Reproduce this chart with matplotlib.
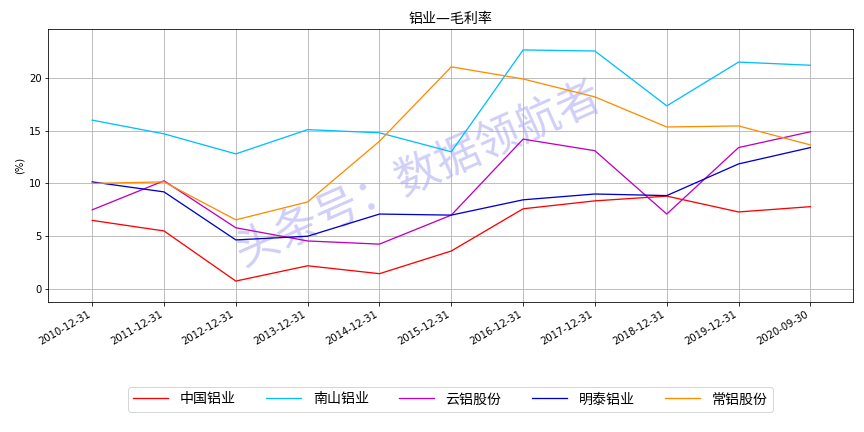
import matplotlib
matplotlib.use("Agg")
import matplotlib.pyplot as plt

plt.rcParams['font.family'] = ['DejaVu Sans', 'Noto Sans CJK SC']
plt.rcParams['axes.unicode_minus'] = False

dates = ['2010-12-31', '2011-12-31', '2012-12-31', '2013-12-31', '2014-12-31',
         '2015-12-31', '2016-12-31', '2017-12-31', '2018-12-31', '2019-12-31',
         '2020-09-30']

chalco = [6.5, 5.5, 0.75, 2.2, 1.45, 3.6, 7.6, 8.35, 8.8, 7.3, 7.8]
nanshan = [16.0, 14.7, 12.8, 15.1, 14.8, 13.0, 22.65, 22.55, 17.35, 21.5, 21.2]
yunlv = [7.5, 10.25, 5.8, 4.55, 4.25, 7.0, 14.2, 13.1, 7.1, 13.4, 14.9]
mingtai = [10.15, 9.2, 4.65, 5.0, 7.1, 7.0, 8.45, 9.0, 8.85, 11.85, 13.4]
changlv = [10.0, 10.15, 6.55, 8.25, 14.0, 21.05, 19.9, 18.2, 15.35, 15.45, 13.65]

series = [
    ('中国铝业', chalco, 'red'),
    ('南山铝业', nanshan, 'deepskyblue'),
    ('云铝股份', yunlv, 'm'),
    ('明泰铝业', mingtai, 'mediumblue'),
    ('常铝股份', changlv, 'darkorange'),
]

fig, ax = plt.subplots(figsize=(12, 6), dpi=72)
fig.subplots_adjust(left=0.056, right=0.987, top=0.933, bottom=0.301)

x = list(range(len(dates)))
for label, vals, color in series:
    ax.plot(x, vals, color=color, label=label, lw=1.3, zorder=3)

ax.set_xticks(x)
ax.set_xticklabels(dates, rotation=30, ha='right', fontsize=10)
ax.set_xlim(-0.61, 10.59)
ax.set_ylim(-1.23, 24.64)
ax.set_yticks([0, 5, 10, 15, 20])
ax.tick_params(labelsize=10)
ax.grid(True, color='#b0b0b0', lw=0.8)
ax.set_ylabel('(%)', fontsize=10)
ax.set_title('铝业—毛利率', fontsize=14)

# watermark
ax.text(0.46, 0.47, '头条号：数据领航者', transform=ax.transAxes,
        rotation=24, fontsize=44, color='#cfcff8', ha='center', va='center',
        family=['Noto Sans CJK SC'], zorder=1)

ax.legend(loc='upper center', bbox_to_anchor=(0.5, -0.285), ncol=5,
          fontsize=14, handlelength=2.5, columnspacing=2.2)

fig.savefig('out.png')
